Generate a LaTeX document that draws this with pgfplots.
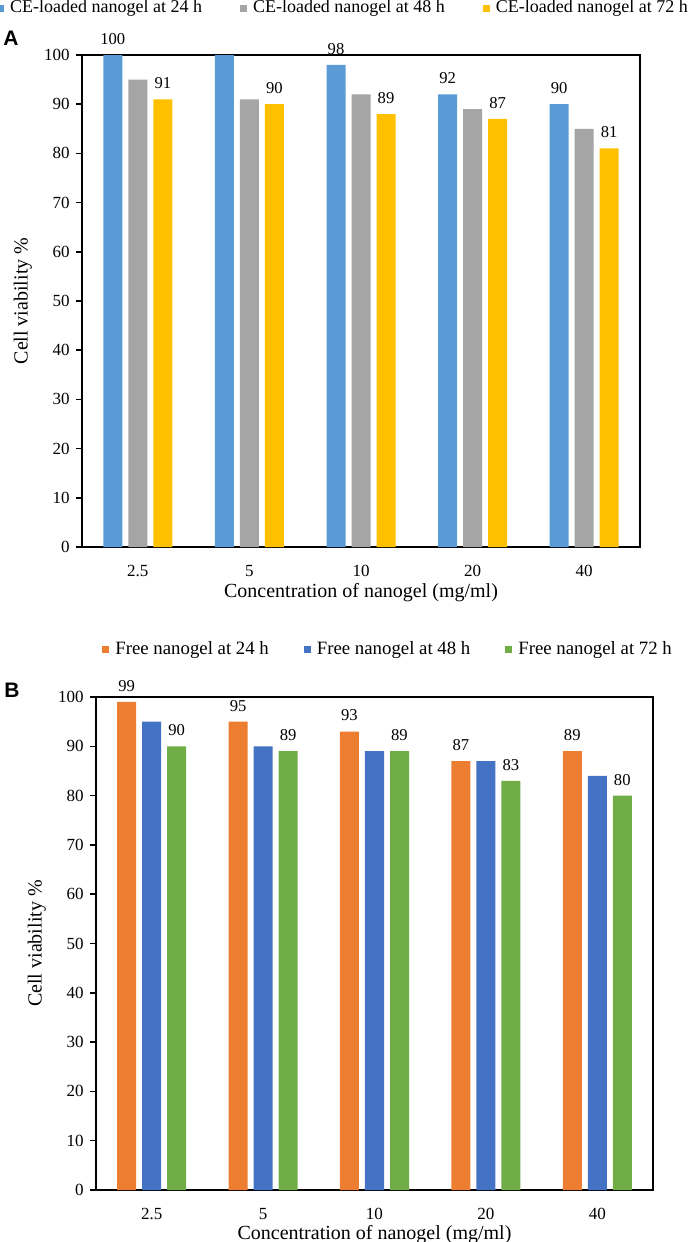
\documentclass[border=0pt]{standalone}
\usepackage{fontspec}
\setmainfont{Liberation Serif}
\newfontfamily\arialf{Liberation Sans}
\usepackage{pgfplots}
\usepackage{pgfplotstable}
\pgfplotsset{compat=1.18}

\definecolor{cblue}{HTML}{5B9BD5}
\definecolor{cgray}{HTML}{A5A5A5}
\definecolor{cyellow}{HTML}{FFC000}
\definecolor{corange}{HTML}{ED7D31}
\definecolor{cbluetwo}{HTML}{4472C4}
\definecolor{cgreen}{HTML}{70AD47}

\pgfplotstableread{
x  a   b   c   la   lc
0  100 95  91  100  91
1  100 91  90  {}   90
2  98  92  88  98   89
3  92  89  87  92   87
4  90  85  81  90   81
}\tabA

\pgfplotstableread{
x  a   b   c   la  lc
0  99  95  90  99  90
1  95  90  89  95  89
2  93  89  89  93  89
3  87  87  83  87  83
4  89  84  80  89  80
}\tabB

\pgfplotsset{
  sqlegend/.style={legend image code/.code={\fill[##1] (0pt,-1.75pt) rectangle (3.5pt,1.75pt);}},
  panel/.style={
    scale only axis, width=279pt, height=246pt,
    ymin=0, ymax=100, ytick={0,10,...,100},
    xmin=-0.5, xmax=4.5, xtick={0,1,2,3,4}, xticklabels={2.5,5,10,20,40},
    ybar=3pt, bar width=9.5pt,
    axis line style={line width=0.9pt},
    tick align=outside, tick pos=left,
    major tick length=3pt,
    xtick style={draw=none},
    ytick style={line width=0.75pt, black},
    clip=false,
    /pgf/number format/assume math mode=true,
    tick label style={font=\rmfamily\fontsize{8.5}{10}\selectfont},
    yticklabel style={anchor=east, inner sep=0pt, xshift=-3pt},
    xticklabel style={anchor=center, yshift=-9pt},
    xlabel={Concentration of nanogel (mg/ml)},
    ylabel={Cell viability \%},
    label style={font=\rmfamily\fontsize{10}{12}\selectfont},
    xlabel style={at={(axis description cs:0.5,0)}, anchor=center, yshift=-23pt},
    ylabel style={at={(axis description cs:-0.106,0.5)}, anchor=center},
    every node near coord/.append style={font=\rmfamily\fontsize{8.3}{10}\selectfont, inner sep=0pt, anchor=south, yshift=5pt, black},
    legend columns=3,
    legend cell align=left,
  }
}

\begin{document}
\begin{tikzpicture}
\path[use as bounding box] (0,0) rectangle (346pt,-621pt);

\node[font=\arialf\bfseries\fontsize{10.5}{12}\selectfont, anchor=center] at (5.5pt,-19pt) {A};
\node[font=\arialf\bfseries\fontsize{10.5}{12}\selectfont, anchor=center] at (6pt,-345pt) {B};

\begin{axis}[panel, at={(41pt,-273.5pt)}, anchor=south west,
  legend style={at={(axis description cs:0.4722,1.0955)}, anchor=center, draw=none, fill=none,
    font=\rmfamily\fontsize{9}{11}\selectfont, inner sep=0pt,
    nodes={inner xsep=3pt, inner ysep=0.75pt},
    /tikz/every even column/.append style={column sep=16pt}},
]
\addplot[fill=cblue, draw=none, sqlegend, nodes near coords, point meta=explicit symbolic]
  table[x=x, y=a, meta=la] {\tabA};
\addlegendentry{CE-loaded nanogel at 24 h}
\addplot[fill=cgray, draw=none, sqlegend] table[x=x, y=b] {\tabA};
\addlegendentry{CE-loaded nanogel at 48 h}
\addplot[fill=cyellow, draw=none, sqlegend, nodes near coords, point meta=explicit symbolic]
  table[x=x, y=c, meta=lc] {\tabA};
\addlegendentry{CE-loaded nanogel at 72 h}
\end{axis}

\begin{axis}[panel, at={(48pt,-595pt)}, anchor=south west, width=278.5pt, height=246.5pt,
  xlabel style={yshift=0.5pt},
  legend style={at={(axis description cs:0.528,1.0955)}, anchor=center, draw=none, fill=none,
    font=\rmfamily\fontsize{9.4}{11}\selectfont, inner sep=0pt,
    nodes={inner xsep=3pt, inner ysep=0.75pt},
    /tikz/every even column/.append style={column sep=14.5pt}},
]
\addplot[fill=corange, draw=none, sqlegend, nodes near coords, point meta=explicit symbolic]
  table[x=x, y=a, meta=la] {\tabB};
\addlegendentry{Free nanogel at 24 h}
\addplot[fill=cbluetwo, draw=none, sqlegend] table[x=x, y=b] {\tabB};
\addlegendentry{Free nanogel at 48 h}
\addplot[fill=cgreen, draw=none, sqlegend, nodes near coords, point meta=explicit symbolic]
  table[x=x, y=c, meta=lc] {\tabB};
\addlegendentry{Free nanogel at 72 h}
\end{axis}
\end{tikzpicture}
\end{document}
